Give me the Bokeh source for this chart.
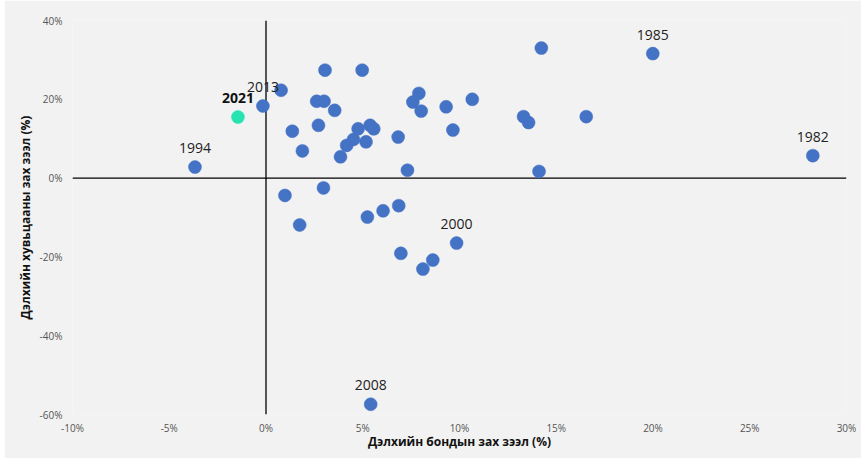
from bokeh.plotting import figure
from bokeh.layouts import row
from bokeh.models import ColumnDataSource, Range1d, FixedTicker, PrintfTickFormatter, Span, Spacer
from bokeh.core.properties import value
from bokeh.embed import file_html
from bokeh.resources import INLINE

# Global bond market return (%) vs global equity market return (%)
bond_ret = [-3.67, -1.45, -0.16, 0.78, 3.05, 4.97, 2.62, 3.00, 3.55, 1.36,
            2.71, 1.88, 3.85, 4.17, 4.52, 4.76, 5.17, 5.38, 5.57, 6.83,
            7.31, 7.59, 7.90, 8.02, 0.98, 2.97, 1.74, 5.24, 6.05, 6.86,
            6.97, 8.11, 8.62, 9.85, 5.41, 14.23, 19.99, 9.31, 10.66, 9.66,
            13.31, 13.57, 16.55, 14.11, 28.26]
equity_ret = [2.8, 15.5, 18.3, 22.3, 27.4, 27.4, 19.5, 19.5, 17.2, 11.9,
              13.4, 6.9, 5.4, 8.3, 9.8, 12.5, 9.2, 13.4, 12.5, 10.4,
              2.0, 19.3, 21.5, 17.0, -4.4, -2.5, -11.9, -9.9, -8.3, -7.0,
              -19.1, -23.1, -20.8, -16.5, -57.4, 33.0, 31.6, 18.1, 20.0, 12.2,
              15.6, 14.1, 15.6, 1.7, 5.7]
year_labels = ["1994", "2021", "2013"] + [""] * 30 + ["2000", "2008", "", "1985"] + [""] * 7 + ["1982"]
point_colors = ["#4472C4", "#25E4B1"] + ["#4472C4"] * 43

x_ticks = [-10, -5, 0, 5, 10, 15, 20, 25, 30]
y_ticks = [-60, -40, -20, 0, 20, 40]

BG = "#f2f2f2"
FONT = "Open Sans"

p = figure(width=857, height=458, output_backend="svg", toolbar_location=None,
           x_range=Range1d(-10, 30), y_range=Range1d(-60, 40),
           background_fill_color=BG, border_fill_color=BG,
           min_border_left=68, min_border_right=15, min_border_top=20, min_border_bottom=44)
p.outline_line_color = None
p.grid.visible = False

for ax in (p.xaxis[0], p.yaxis[0]):
    ax.axis_line_color = None
    ax.major_tick_line_color = None
    ax.minor_tick_line_color = None
    ax.major_tick_out = 0
    ax.major_label_text_font = FONT
    ax.major_label_text_font_size = "10px"
    ax.major_label_text_color = "#555555"
    ax.axis_label_text_font = FONT
    ax.axis_label_text_font_size = "12px"
    ax.axis_label_text_font_style = "bold"
    ax.axis_label_text_color = "#111111"
    ax.formatter = PrintfTickFormatter(format="%d%%")

p.xaxis.ticker = FixedTicker(ticks=x_ticks)
p.yaxis.ticker = FixedTicker(ticks=y_ticks)
p.xaxis.major_label_standoff = 6
p.yaxis.major_label_standoff = 10
p.xaxis.axis_label_standoff = -5
p.yaxis.axis_label_standoff = 3
p.xaxis.axis_label = "Дэлхийн бондын зах зээл (%)"
p.yaxis.axis_label = "Дэлхийн хувьцааны зах зээл (%)"

p.add_layout(Span(location=0, dimension="height", line_color="#555555", line_width=2, level="underlay"))
p.add_layout(Span(location=0, dimension="width", line_color="#000000", line_width=1.4, level="underlay"))

src = ColumnDataSource(dict(x=bond_ret, y=equity_ret, label=year_labels, color=point_colors))
p.scatter("x", "y", source=src, size=13, fill_color="color", line_color="color", line_width=0.5)

norm = [l if l != "2021" else "" for l in year_labels]
bold = [l if l == "2021" else "" for l in year_labels]
src_n = ColumnDataSource(dict(x=bond_ret, y=equity_ret, t=norm))
src_b = ColumnDataSource(dict(x=bond_ret, y=equity_ret, t=bold))
p.text("x", "y", text="t", source=src_n, y_offset=-19, text_align="center", text_baseline="middle",
       text_font=value(FONT), text_font_size="14px", text_color="#222222")
p.text("x", "y", text="t", source=src_b, y_offset=-19, text_align="center", text_baseline="middle",
       text_font=value(FONT), text_font_size="14px", text_font_style="bold", text_color="#111111")

layout = row(Spacer(width=4, height=458), p)
open("out.html", "w").write(file_html(layout, INLINE))
